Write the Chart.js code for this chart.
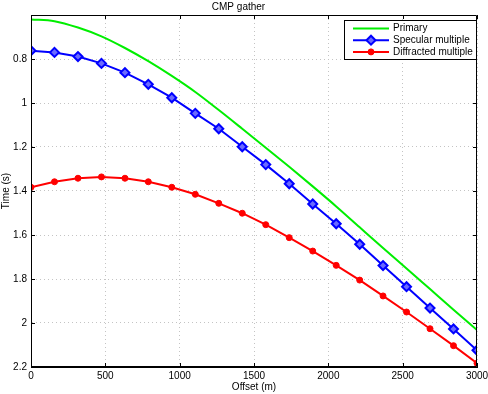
<!DOCTYPE html>
<html>
<head>
<meta charset="utf-8">
<script src="https://cdn.jsdelivr.net/npm/chart.js@4"></script>
<style>
  html, body { margin: 0; padding: 0; background: #fff; }
  #wrap { width: 488px; height: 394px; }
</style>
</head>
<body>
<div id="wrap"><canvas id="c" width="488" height="394"></canvas></div>
<script>
const offsets = [0, 158, 316, 474, 632, 789, 947, 1105, 1263, 1421, 1579, 1737, 1895, 2053, 2211, 2368, 2526, 2684, 2842, 3000];
const primary = [0.620, 0.628, 0.657, 0.697, 0.750, 0.810, 0.877, 0.950, 1.032, 1.117, 1.203, 1.290, 1.379, 1.470, 1.565, 1.659, 1.752, 1.846, 1.940, 2.032];
const specular = [0.762, 0.770, 0.789, 0.820, 0.862, 0.915, 0.976, 1.047, 1.117, 1.199, 1.280, 1.367, 1.459, 1.549, 1.642, 1.739, 1.835, 1.932, 2.027, 2.124];
const diffracted = [1.383, 1.358, 1.342, 1.336, 1.342, 1.358, 1.383, 1.415, 1.456, 1.501, 1.553, 1.612, 1.673, 1.738, 1.805, 1.877, 1.950, 2.026, 2.103, 2.183];
const seriesNames = ['Primary', 'Specular multiple', 'Diffracted multiple'];
const xTicks = [0, 500, 1000, 1500, 2000, 2500, 3000];
const yTicks = [0.8, 1, 1.2, 1.4, 1.6, 1.8, 2, 2.2];

const FONT = "'Liberation Sans', Arial, Helvetica, sans-serif";
Chart.defaults.font.family = FONT;
Chart.defaults.font.size = 10;
Chart.defaults.color = '#000';

const pts = arr => arr.map((v, i) => ({x: offsets[i], y: v}));

const boxPlugin = {
  id: 'box',
  afterDatasetsDraw(chart) {
    const {ctx, chartArea: a, scales: {x, y}} = chart;
    ctx.save();
    ctx.strokeStyle = '#000';
    ctx.lineWidth = 1;
    ctx.beginPath();
    ctx.rect(a.left + 0.5, a.top + 0.5, a.right - a.left - 1, a.bottom - a.top - 1);
    ctx.stroke();
    ctx.beginPath();
    xTicks.forEach(v => {
      const px = Math.round(x.getPixelForValue(v)) + 0.5;
      ctx.moveTo(px, a.bottom); ctx.lineTo(px, a.bottom - 4);
      ctx.moveTo(px, a.top); ctx.lineTo(px, a.top + 4);
    });
    yTicks.forEach(v => {
      const py = Math.round(y.getPixelForValue(v)) + 0.5;
      ctx.moveTo(a.left, py); ctx.lineTo(a.left + 4, py);
      ctx.moveTo(a.right, py); ctx.lineTo(a.right - 4, py);
    });
    ctx.stroke();
    ctx.restore();
  },
  afterDraw(chart) {
    const {ctx, chartArea: a} = chart;
    const bx = 344, by = 20, bw = a.right - 1 - bx, bh = 39;
    ctx.save();
    ctx.fillStyle = '#fff';
    ctx.fillRect(bx, by, bw, bh);
    ctx.strokeStyle = '#000';
    ctx.lineWidth = 1;
    ctx.strokeRect(bx + 0.5, by + 0.5, bw, bh);
    chart.data.datasets.forEach((ds, i) => {
      const ry = by + 8.5 + i * 11.7;
      ctx.strokeStyle = ds.borderColor;
      ctx.lineWidth = 2;
      ctx.beginPath();
      ctx.moveTo(353, ry); ctx.lineTo(389, ry);
      ctx.stroke();
      if (ds.pointRadius > 0) {
        ctx.fillStyle = ds.pointBackgroundColor;
        ctx.strokeStyle = ds.pointBorderColor;
        ctx.lineWidth = ds.pointBorderWidth;
        Chart.helpers.drawPoint(ctx, {pointStyle: ds.pointStyle, radius: ds.pointRadius, borderWidth: ds.pointBorderWidth}, 371, ry);
      }
      ctx.fillStyle = '#000';
      ctx.font = '10px ' + FONT;
      ctx.textBaseline = 'middle';
      ctx.textAlign = 'left';
      ctx.fillText(ds.label, 393, ry);
    });
    ctx.restore();
  }
};

new Chart(document.getElementById('c'), {
  type: 'line',
  data: {
    datasets: [
      {
        label: seriesNames[0], data: pts(primary),
        borderColor: '#00ee00', backgroundColor: '#00ee00', borderWidth: 2,
        pointRadius: 0, cubicInterpolationMode: 'monotone'
      },
      {
        label: seriesNames[1], data: pts(specular),
        borderColor: '#0000ff', backgroundColor: '#0000ff', borderWidth: 2,
        pointStyle: 'rectRot', pointRadius: 4.5, pointBorderWidth: 2,
        pointBackgroundColor: '#6a6aff', pointBorderColor: '#0000ff'
      },
      {
        label: seriesNames[2], data: pts(diffracted),
        borderColor: '#ff0000', backgroundColor: '#ff0000', borderWidth: 2,
        pointStyle: 'circle', pointRadius: 3, pointBorderWidth: 1,
        pointBackgroundColor: '#ff0000', pointBorderColor: '#ff0000'
      }
    ]
  },
  options: {
    responsive: false,
    animation: false,
    layout: { padding: { left: 0, right: 11, top: 0, bottom: 0 } },
    plugins: {
      legend: { display: false },
      tooltip: { enabled: false },
      title: {
        display: true, text: 'CMP gather', color: '#000',
        font: { size: 10, weight: 'normal', lineHeight: 1.2 },
        padding: { top: 1, bottom: 2 }
      }
    },
    scales: {
      x: {
        type: 'linear', min: 0, max: 3000,
        afterFit(s) { s.height = 27; s.paddingLeft = 0; s.paddingRight = 0; },
        afterBuildTicks(s) { s.ticks = xTicks.map(v => ({value: v})); },
        ticks: { padding: 3, maxRotation: 0, callback: v => String(v) },
        grid: { color: '#c4c4c4', drawTicks: false, lineWidth: 1 },
        border: { display: true, color: '#000', dash: [1, 3] },
        title: { display: true, text: 'Offset (m)', font: { size: 10 }, padding: { top: 0, bottom: 1 } }
      },
      y: {
        type: 'linear', min: 0.6, max: 2.2, reverse: true,
        afterFit(s) { s.width = 31; s.paddingTop = 0; s.paddingBottom = 0; },
        afterBuildTicks(s) { s.ticks = yTicks.map(v => ({value: v})); },
        ticks: { padding: 4, callback: v => String(Math.round(v * 10) / 10) },
        grid: { color: '#c4c4c4', drawTicks: false, lineWidth: 1 },
        border: { display: true, color: '#000', dash: [1, 3] },
        title: { display: true, text: 'Time (s)', font: { size: 10 }, padding: { top: 0, bottom: 0 } }
      }
    }
  },
  plugins: [boxPlugin]
});
</script>
</body>
</html>
